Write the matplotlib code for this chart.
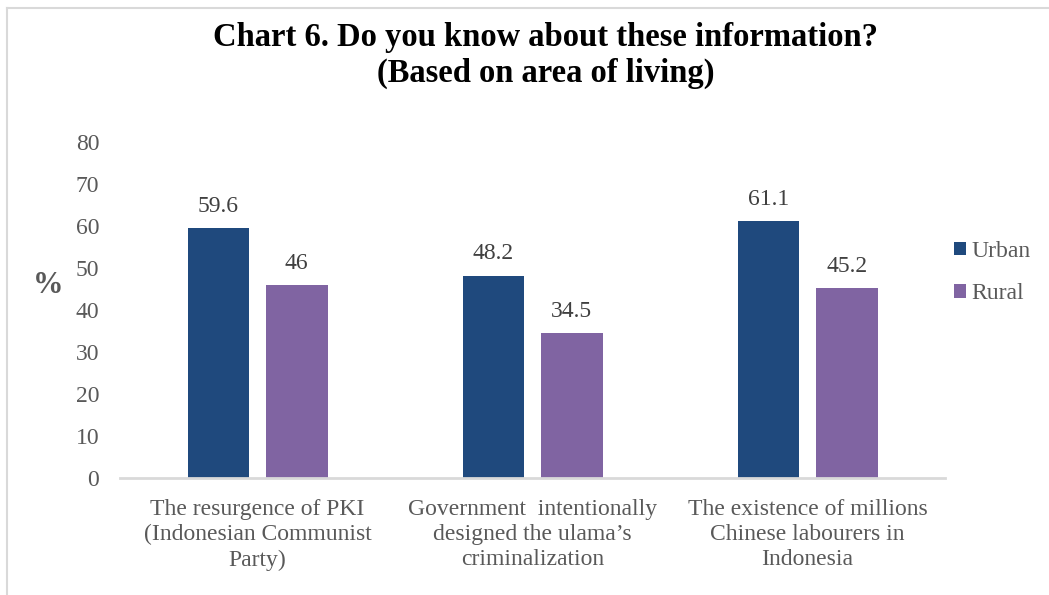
import matplotlib.pyplot as plt
import numpy as np
from matplotlib.lines import Line2D

# survey answers by area of living (%)
categories = ['The resurgence of PKI\n(Indonesian Communist\nParty)',
              'Government  intentionally\ndesigned the ulama\u2019s\ncriminalization',
              'The existence of millions\nChinese labourers in\nIndonesia']
urban = [59.6, 48.2, 61.1]
rural = [46, 34.5, 45.2]
urban_labels = ['59.6', '48.2', '61.1']
rural_labels = ['46', '34.5', '45.2']

plt.rcParams['font.family'] = ['Liberation Serif', 'DejaVu Serif']

fig = plt.figure(figsize=(10.49, 5.95), dpi=100)
ax = fig.add_axes([0.1144, 0.1966, 0.7865, 0.5647])

x = np.arange(len(categories))
w = 0.225
b1 = ax.bar(x - 0.142, urban, w, color='#1F497D', label='Urban')
b2 = ax.bar(x + 0.142, rural, w, color='#8064A2', label='Rural')

for bar, txt in zip(b1, urban_labels):
    ax.annotate(txt, (bar.get_x() + bar.get_width() / 2, bar.get_height()),
                xytext=(0, 8), textcoords='offset points', ha='center', va='bottom',
                fontsize=17, color='#404040')
for bar, txt in zip(b2, rural_labels):
    ax.annotate(txt, (bar.get_x() + bar.get_width() / 2, bar.get_height()),
                xytext=(0, 8), textcoords='offset points', ha='center', va='bottom',
                fontsize=17, color='#404040')

ax.set_xlim(-0.5, 2.5)
ax.set_ylim(0, 80)
ax.set_yticks(range(0, 81, 10))
ax.set_xticks(x)
ax.set_xticklabels(categories, fontsize=17, color='#595959', linespacing=1.27)
ax.tick_params(axis='y', length=0, labelsize=17, labelcolor='#595959', pad=15)
ax.tick_params(axis='x', length=0, pad=15)
for s in ['top', 'right', 'left']:
    ax.spines[s].set_visible(False)
ax.spines['bottom'].set_color('#D9D9D9')
ax.spines['bottom'].set_linewidth(2)

ax.set_ylabel('%', rotation=0, fontsize=22, fontweight='bold', color='#595959',
              va='center', ha='center')
ax.yaxis.set_label_coords(-0.087, 0.574)

ax.legend(loc='center left', bbox_to_anchor=(0.985, 0.611), frameon=False,
          fontsize=17, labelcolor='#595959', handlelength=0.5, handleheight=0.5,
          handletextpad=0.25, labelspacing=0.9)

fig.text(0.52, 0.907, 'Chart 6. Do you know about these information?\n(Based on area of living)',
         ha='center', va='center', fontsize=23.5, fontweight='bold', linespacing=1.2)

# chart frame
fig.add_artist(Line2D([7 / 1049, 1], [1 - 8 / 595, 1 - 8 / 595], color='#D9D9D9', lw=1.5))
fig.add_artist(Line2D([7 / 1049, 7 / 1049], [0, 1 - 8 / 595], color='#D9D9D9', lw=1.5))

fig.savefig('out.png', dpi=100)
